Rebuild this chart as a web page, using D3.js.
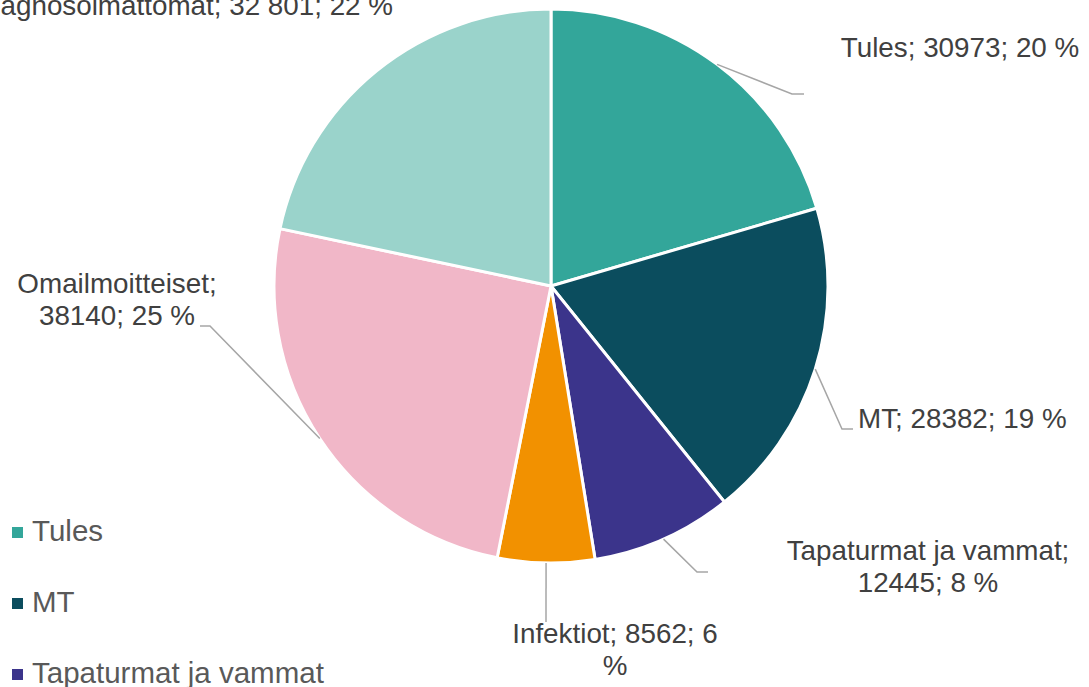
<!DOCTYPE html>
<html>
<head>
<meta charset="utf-8">
<script src="https://cdn.jsdelivr.net/npm/d3@7"></script>
<style>
html,body{margin:0;padding:0;background:#fff;overflow:hidden;}
svg{display:block;font-family:"Liberation Sans",Arial,sans-serif;}
</style>
</head>
<body>
<svg id="chart" width="1089" height="687"></svg>
<script>
// ---- data ----
const categories = ["Tules", "MT", "Tapaturmat ja vammat", "Infektiot", "Omailmoitteiset", "Diagnosoimattomat"];
const values = [30973, 28382, 12445, 8562, 38140, 32801];
const valueTexts = ["30973", "28382", "12445", "8562", "38140", "32 801"];
const colors = ["#33a69a", "#0b4d5e", "#3b348b", "#f29100", "#f1b7c8", "#9ad3cb"];
const legendItems = ["Tules", "MT", "Tapaturmat ja vammat"];

// ---- layout ----
const cx = 551, cy = 286, R = 277;
const labelFont = 27.8, legendFont = 29.5, lineH = 32;
// label layout: text lines, anchor position, leader elbow/end (null = no leader)
const labelLayout = [
  {lines: d => [`${d.name}; ${d.vt}; ${d.pct} %`], x: 960, y: 57, anchor: "middle", elbow: [792, 94], end: [804, 94]},
  {lines: d => [`${d.name}; ${d.vt}; ${d.pct} %`], x: 858, y: 428, anchor: "start", elbow: [842, 429], end: [853, 429]},
  {lines: d => [`${d.name};`, `${d.vt}; ${d.pct} %`], x: 928, y: 560, anchor: "middle", elbow: [697, 572], end: [708, 572]},
  {lines: d => [`${d.name}; ${d.vt}; ${d.pct}`, "%"], x: 615, y: 643, anchor: "middle", elbow: [546, 622], end: [546, 622]},
  {lines: d => [`${d.name};`, `${d.vt}; ${d.pct} %`], x: 117, y: 293, anchor: "middle", elbow: [210, 326], end: [200, 326]},
  {lines: d => [`${d.name}; ${d.vt}; ${d.pct} %`], x: 393, y: 15, anchor: "end", elbow: null, end: null}
];

const total = d3.sum(values);
const data = categories.map((c, i) => ({
  name: c, value: values[i], vt: valueTexts[i], color: colors[i],
  pct: Math.round(values[i] / total * 100), layout: labelLayout[i]
}));

const svg = d3.select("#chart");
const g = svg.append("g").attr("transform", `translate(${cx},${cy})`);

const pie = d3.pie().value(d => d.value).sort(null);
const arc = d3.arc().innerRadius(0).outerRadius(R);
const arcs = pie(data);

g.selectAll("path.slice").data(arcs).join("path")
  .attr("class", "slice")
  .attr("d", arc)
  .attr("fill", d => d.data.color)
  .attr("stroke", "#fff")
  .attr("stroke-width", 3)
  .attr("stroke-linejoin", "miter");

// leader lines
arcs.forEach(a => {
  const L = a.data.layout;
  if (!L.elbow) return;
  const mid = (a.startAngle + a.endAngle) / 2;
  const sx = cx + R * Math.sin(mid), sy = cy - R * Math.cos(mid);
  svg.append("polyline")
    .attr("points", `${sx},${sy} ${L.elbow[0]},${L.elbow[1]} ${L.end[0]},${L.end[1]}`)
    .attr("fill", "none")
    .attr("stroke", "#a6a6a6")
    .attr("stroke-width", 1.5);
});

// labels
arcs.forEach(a => {
  const L = a.data.layout;
  const t = svg.append("text")
    .attr("x", L.x).attr("y", L.y)
    .attr("text-anchor", L.anchor)
    .attr("font-size", labelFont)
    .attr("fill", "#404040");
  L.lines(a.data).forEach((s, i) => {
    t.append("tspan").attr("x", L.x).attr("y", L.y + i * lineH).text(s);
  });
});

// legend
const legendY0 = 541, legendStep = 71;
const lg = svg.append("g");
legendItems.forEach((name, i) => {
  const d = data.find(e => e.name === name);
  const y = legendY0 + i * legendStep;
  lg.append("rect").attr("x", 12).attr("y", y - 14).attr("width", 11).attr("height", 11).attr("fill", d.color);
  lg.append("text").attr("x", 32).attr("y", y).attr("font-size", legendFont).attr("fill", "#595959").text(name);
});
</script>
</body>
</html>
